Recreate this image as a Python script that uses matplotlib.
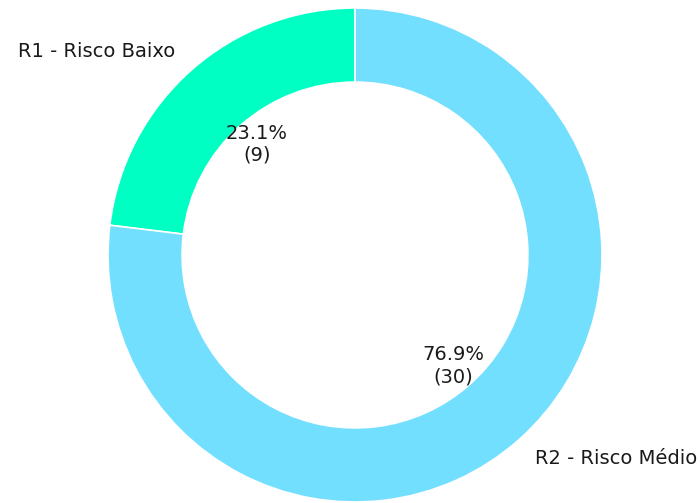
import matplotlib
matplotlib.use("Agg")
import matplotlib.pyplot as plt

labels = ["R1 - Risco Baixo", "R2 - Risco Médio"]
counts = [9, 30]
colors = ["#00FFC3", "#73DFFF"]

total = sum(counts)

def fmt(p):
    return f"{p:.1f}%\n({int(round(p * total / 100))})"

fig = plt.figure(figsize=(7.0, 5.03), dpi=100)
ax = fig.add_axes([0, 0, 1, 1])
wedges, texts, autotexts = ax.pie(
    counts, labels=labels, colors=colors, startangle=90, autopct=fmt,
    pctdistance=0.6, labeldistance=1.1,
    wedgeprops=dict(width=0.3, edgecolor="white", linewidth=1.2),
    textprops=dict(fontsize=14.0, color="#1a1a1a"),
)
for t in autotexts:
    t.set_horizontalalignment("center")
r = 247.0
ax.set_xlim(-355 / r, 345 / r)
ax.set_ylim(-248 / r, 255 / r)
ax.set_aspect("auto")
ax.axis("off")
fig.savefig("out.png", dpi=100)
